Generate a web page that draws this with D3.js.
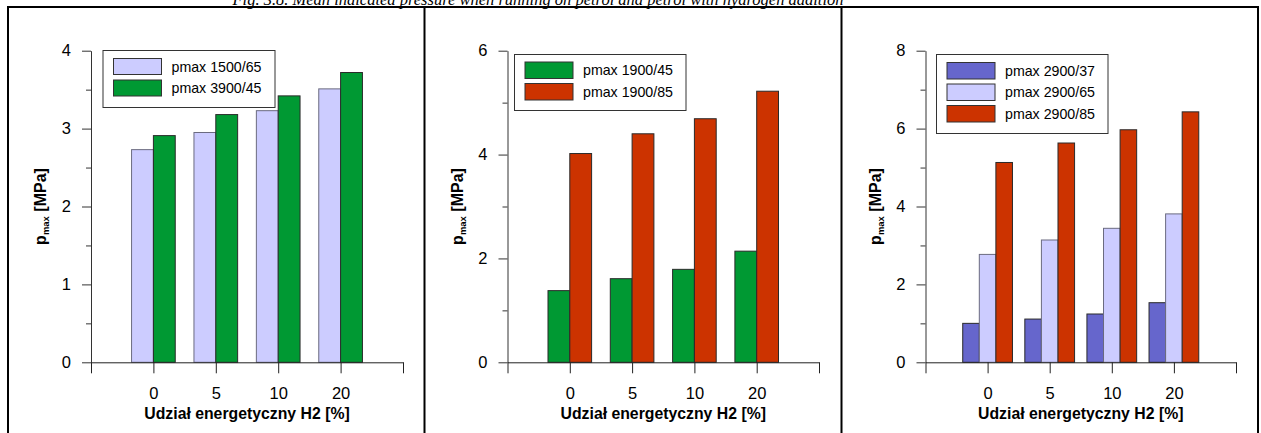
<!DOCTYPE html>
<html>
<head>
<meta charset="utf-8">
<script src="https://cdn.jsdelivr.net/npm/d3@7"></script>
<style>
  html, body { margin: 0; padding: 0; background: #fff; }
  svg { display: block; }
  text { font-family: "Liberation Sans", Arial, sans-serif; }
</style>
</head>
<body>
<svg id="chart" width="1261" height="433"></svg>
<script>
// ---------- DATA ----------
const captionText = "Fig. 3.8. Mean indicated pressure when running on petrol and petrol with hydrogen addition";
const categories = ["0", "5", "10", "20"];
const xAxisTitle = "Udział energetyczny H2 [%]";

// Panel 1
const p1Names = ["pmax 1500/65", "pmax 3900/45"];
const pmax1500_65 = [2.73, 2.95, 3.23, 3.51];
const pmax3900_45 = [2.91, 3.18, 3.42, 3.72];
const p1Ticks = [0, 1, 2, 3, 4];

// Panel 2
const p2Names = ["pmax 1900/45", "pmax 1900/85"];
const pmax1900_45 = [1.38, 1.61, 1.79, 2.14];
const pmax1900_85 = [4.02, 4.40, 4.69, 5.22];
const p2Ticks = [0, 2, 4, 6];

// Panel 3
const p3Names = ["pmax 2900/37", "pmax 2900/65", "pmax 2900/85"];
const pmax2900_37 = [1.00, 1.11, 1.24, 1.53];
const pmax2900_65 = [2.77, 3.14, 3.44, 3.81];
const pmax2900_85 = [5.13, 5.63, 5.97, 6.43];
const p3Ticks = [0, 2, 4, 6, 8];

// ---------- STYLE ----------
const LAV = "#ccccff", GREEN = "#009933", RED = "#cc3300", BLUE = "#6666cc";

const panels = [
  { axisX: 91,    axisEnd: 403,  ymax: 4, ticks: p1Ticks, minorStep: 0.5,
    series: [pmax1500_65, pmax3900_45], names: p1Names, colors: [LAV, GREEN], barW: 0.35,
    legend: { x: 103, y: 50.5, w: 172, h: 57, rowY: [58.5, 80], rowH: 16 } },
  { axisX: 507.5, axisEnd: 819,  ymax: 6, ticks: p2Ticks, minorStep: 1,
    series: [pmax1900_45, pmax1900_85], names: p2Names, colors: [GREEN, RED], barW: 0.35,
    legend: { x: 514.5, y: 54.5, w: 171.5, h: 56, rowY: [62, 83.5], rowH: 16.5 } },
  { axisX: 925.5, axisEnd: 1236, ymax: 8, ticks: p3Ticks, minorStep: 1,
    series: [pmax2900_37, pmax2900_65, pmax2900_85], names: p3Names, colors: [BLUE, LAV, RED], barW: 0.267,
    legend: { x: 936.5, y: 54.5, w: 171.5, h: 79, rowY: [62.5, 84, 105.5], rowH: 16.5 } }
];

const Y0 = 362.3, YTOP = 50.7;
const svg = d3.select("#chart");

// ---------- FRAME ----------
const frame = svg.append("g").attr("stroke", "#000").attr("stroke-width", 2);
frame.append("line").attr("x1", 7).attr("x2", 1259).attr("y1", 7).attr("y2", 7);
[8, 424.5, 841.5, 1258].forEach(x =>
  frame.append("line").attr("x1", x).attr("x2", x).attr("y1", 7).attr("y2", 433));

svg.append("text")
  .attr("x", 538).attr("y", 4.5)
  .attr("text-anchor", "middle")
  .style("font-family", "'Liberation Serif', 'Times New Roman', serif")
  .style("font-style", "italic")
  .style("font-size", "16.5px")
  .text(captionText);

// ---------- PANELS ----------
panels.forEach(p => {
  const g = svg.append("g");
  const y = d3.scaleLinear().domain([0, p.ymax]).range([Y0, YTOP]);
  const x = d3.scaleLinear().domain([0, 5]).range([p.axisX, p.axisEnd]);
  const n = p.series.length;
  const bwPx = x(p.barW) - x(0);

  // bars
  p.series.forEach((vals, j) => {
    g.selectAll(null).data(vals).enter().append("rect")
      .attr("x", (d, i) => x(i + 1) - n * bwPx / 2 + j * bwPx)
      .attr("width", bwPx)
      .attr("y", d => y(d))
      .attr("height", d => Y0 - y(d))
      .attr("fill", p.colors[j])
      .attr("stroke", p.colors[j] === LAV ? "#6b6b80" : "#2a2a2a")
      .attr("stroke-width", 1);
  });

  // minor y ticks
  const minor = d3.range(0, p.ymax + 1e-9, p.minorStep).filter(v => !p.ticks.includes(v));
  g.append("g").attr("transform", `translate(${p.axisX},0)`)
    .call(d3.axisLeft(y).tickValues(minor).tickSize(5).tickFormat(""))
    .call(a => a.select(".domain").remove())
    .call(a => a.selectAll("line").attr("stroke", "#333"));

  // major y axis
  g.append("g").attr("transform", `translate(${p.axisX},0)`)
    .call(d3.axisLeft(y).tickValues(p.ticks).tickSize(9).tickSizeOuter(0).tickPadding(11).tickFormat(d3.format("d")))
    .call(a => a.select(".domain").attr("stroke", "#333"))
    .call(a => a.selectAll("line").attr("stroke", "#333"))
    .call(a => a.selectAll("text").attr("fill", "#000").style("font-size", "16.5px")
      .style("font-family", "'Liberation Sans', Arial, sans-serif"));

  // x axis
  g.append("g").attr("transform", `translate(0,${Y0})`)
    .call(d3.axisBottom(x).tickValues([0, 1, 2, 3, 4, 5]).tickSize(11).tickSizeOuter(0).tickPadding(14)
      .tickFormat(i => categories[i - 1] || ""))
    .call(a => a.select(".domain").attr("stroke", "#222"))
    .call(a => a.selectAll("line").attr("stroke", "#222"))
    .call(a => a.selectAll("text").attr("fill", "#000").style("font-size", "16.5px")
      .style("font-family", "'Liberation Sans', Arial, sans-serif"));

  // x title
  g.append("text")
    .attr("x", (p.axisX + p.axisEnd) / 2).attr("y", 418.5)
    .attr("text-anchor", "middle")
    .style("font-size", "15.8px").style("font-weight", "bold")
    .text(xAxisTitle);

  // y title
  const yt = g.append("text")
    .attr("transform", `translate(${p.axisX - 45},${(Y0 + YTOP) / 2}) rotate(-90)`)
    .attr("text-anchor", "middle")
    .style("font-size", "16px").style("font-weight", "bold");
  yt.append("tspan").text("p");
  yt.append("tspan").attr("dy", 3).style("font-size", "9.5px").text("max");
  yt.append("tspan").attr("dy", -3).text(" [MPa]");

  // legend
  const L = p.legend;
  const lg = g.append("g");
  lg.append("rect").attr("x", L.x).attr("y", L.y).attr("width", L.w).attr("height", L.h)
    .attr("fill", "#fff").attr("stroke", "#333").attr("stroke-width", 1);
  p.names.forEach((name, j) => {
    lg.append("rect")
      .attr("x", L.x + 10.5).attr("y", L.rowY[j]).attr("width", 48).attr("height", L.rowH)
      .attr("fill", p.colors[j]).attr("stroke", "#333").attr("stroke-width", 1);
    lg.append("text")
      .attr("x", L.x + 68.5).attr("y", L.rowY[j] + L.rowH / 2)
      .attr("dy", "0.36em")
      .style("font-size", "14.2px")
      .text(name);
  });
});
</script>
</body>
</html>
